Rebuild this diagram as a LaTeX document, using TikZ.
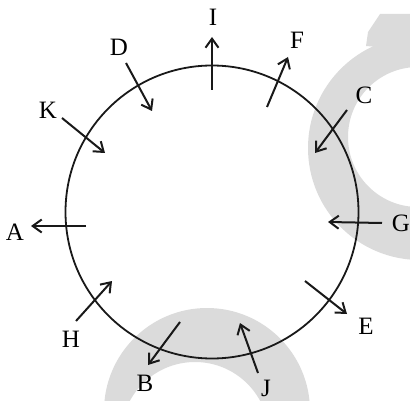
\documentclass[tikz,border=0pt]{standalone}
\usepackage{fontspec}
\setmainfont{Liberation Serif}
\usetikzlibrary{arrows.meta}

\begin{document}
\begin{tikzpicture}[x=1pt, y=-1pt,
  >={Straight Barb[length=9pt,width=13pt]},
  wm/.style={fill=black!14},
  arr/.style={->, line width=2pt, draw=black!90},
  lbl/.style={inner sep=0pt, font=\fontsize{25}{30}\selectfont}]
\useasboundingbox (0,0) rectangle (410,401);
% grey background arcs
\begin{scope}
  \clip (0,0) rectangle (410,401);
  \fill[wm, even odd rule] (420,148) circle (112) (418,137) circle (70);
  \fill[wm] (366,46) -- (368,32) -- (380,14) -- (412,14) -- (412,50) -- cycle;
  \fill[wm, even odd rule] (207,411) circle (103) (195,436) circle (74);
\end{scope}
% the circle
\draw[line width=1.8pt, draw=black!90] (212,212) circle (146.5);
% arrows and their letters
\foreach \n/\sx/\sy/\ex/\ey/\lx/\ly in {
  I/212/90/212/37/213/17,
  F/267/107/288/57/297/40,
  C/347/110/315/153/364/95,
  G/382/223/328/222/401/223,
  E/305/281/347/314/366/326,
  J/258/373/240/323/266/388,
  B/180/322/148/365/145/383,
  H/76/321/112/281/71/339,
  A/86/226/31/226/15/232,
  K/62/118/105/153/48/110,
  D/126/63/152/111/119/47}{
  \coordinate (\n-s) at (\sx,\sy);
  \coordinate (\n-e) at (\ex,\ey);
  \node[lbl] (\n) at (\lx,\ly) {\n};
  \draw[arr] (\n-s) -- (\n-e);
}
\end{tikzpicture}
\end{document}
